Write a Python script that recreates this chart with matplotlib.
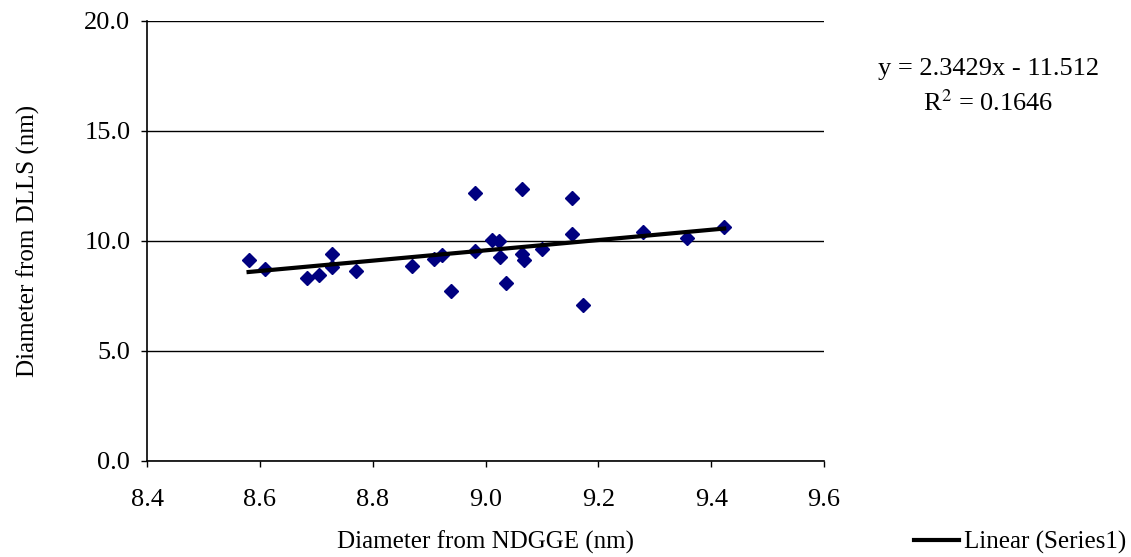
import matplotlib
matplotlib.use("Agg")
import matplotlib.pyplot as plt
from matplotlib.lines import Line2D
import numpy as np

# Diameter from NDGGE (nm) vs diameter from DLLS (nm)
x_ndgge = [8.580, 8.609, 8.683, 8.705, 8.727, 8.727, 8.770, 8.869, 8.909,
           8.923, 8.939, 8.981, 8.981, 9.012, 9.023, 9.026, 9.036, 9.064,
           9.064, 9.068, 9.100, 9.154, 9.154, 9.173, 9.279, 9.357, 9.423]
y_dlls = [9.14, 8.73, 8.30, 8.47, 9.40, 8.83, 8.64, 8.88, 9.18,
          9.38, 7.73, 12.17, 9.55, 10.05, 9.98, 9.27, 8.08, 12.35,
          9.40, 9.14, 9.62, 11.94, 10.30, 7.09, 10.40, 10.12, 10.62]

# trendline as given on the chart
slope = 2.3429
intercept = -11.512
r2 = 0.1646

xticks = [8.4, 8.6, 8.8, 9.0, 9.2, 9.4, 9.6]
yticks = [0, 5, 10, 15, 20]

plt.rcParams['font.family'] = ['Liberation Serif', 'DejaVu Serif']

fig = plt.figure(figsize=(11.31, 5.57), dpi=100)
ax = fig.add_axes([0.130, 0.1724, 0.5986, 0.7899])

ax.set_xlim(8.4, 9.6)
ax.set_ylim(0, 20)
ax.set_xticks(xticks)
ax.set_yticks(yticks)
ax.set_xticklabels(['%.1f' % v for v in xticks])
ax.set_yticklabels(['%.1f' % v for v in yticks])
ax.tick_params(direction='out', length=4, width=1, labelsize=19, colors='black')
ax.tick_params(axis='x', pad=16)
ax.tick_params(axis='y', pad=8)
ax.yaxis.grid(True, color='black', linewidth=1)
ax.set_axisbelow(True)
for s in ['top', 'right']:
    ax.spines[s].set_visible(False)
for s in ['left', 'bottom']:
    ax.spines[s].set_linewidth(1.2)

ax.plot(x_ndgge, y_dlls, linestyle='none', marker='D', markersize=7.5,
        color='#000080', zorder=3)

xs = np.array([min(x_ndgge), max(x_ndgge)])
ax.plot(xs, slope * xs + intercept, color='black', linewidth=3, zorder=4)

ax.set_xlabel('Diameter from NDGGE (nm)', fontsize=18, labelpad=14)
ax.set_ylabel('Diameter from DLLS (nm)', fontsize=18, labelpad=32)

fig.text(0.874, 0.877, 'y = %.4fx - %.3f' % (slope, -intercept), ha='center',
         va='center', fontsize=19)
fig.text(0.874, 0.815, r'R$^{2}$ = %.4f' % r2, ha='center', va='center',
         fontsize=19, math_fontfamily='stix')

handle = Line2D([], [], color='black', linewidth=3)
fig.legend([handle], ['Linear (Series1)'], loc='lower right',
           bbox_to_anchor=(1.016, -0.035), frameon=False, fontsize=18,
           handlelength=1.8, handletextpad=0.2)

fig.savefig('out.png', dpi=100)
